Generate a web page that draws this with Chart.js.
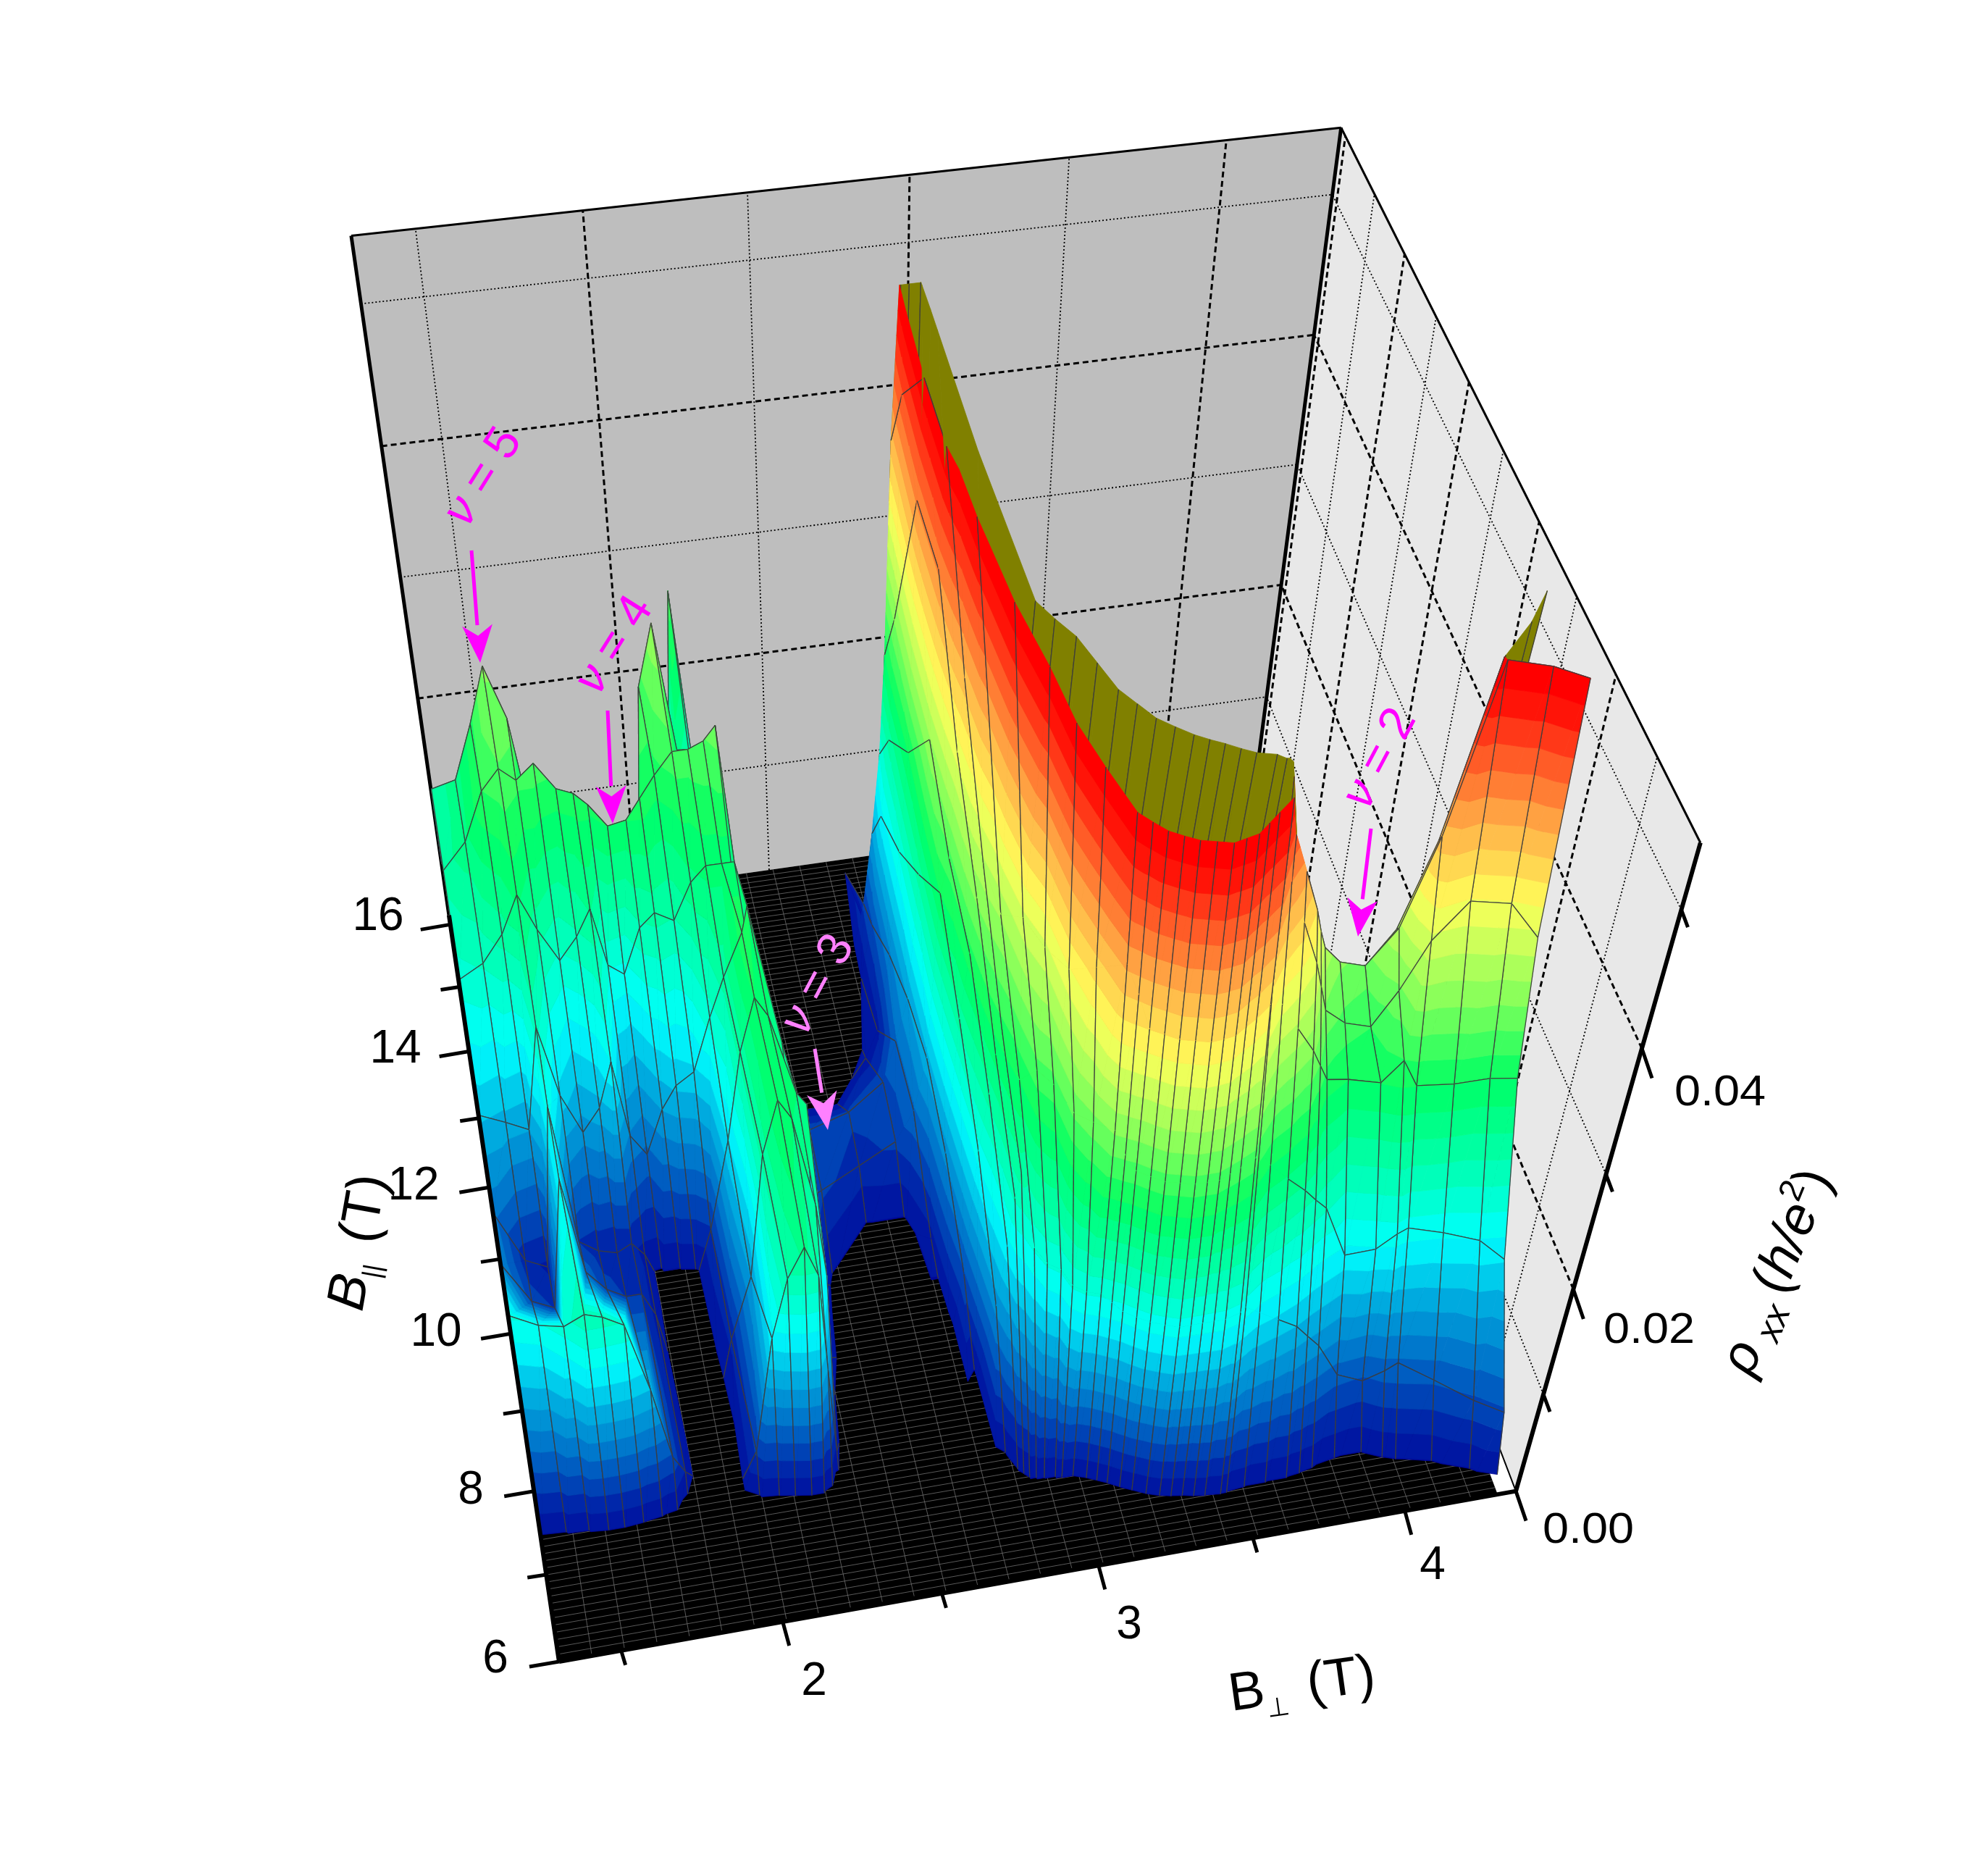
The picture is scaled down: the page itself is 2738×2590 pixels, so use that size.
<!DOCTYPE html>
<html>
<head>
<meta charset="utf-8">
<style>html,body{margin:0;background:#fff}canvas{display:block}</style>
<script src="https://cdn.jsdelivr.net/npm/chart.js@4/dist/chart.umd.min.js"></script>
</head>
<body>
<canvas id="c" width="2738" height="2590"></canvas>
<script>
// B_perp of each mesh column (T)
var bPerp = [1.31,1.39,1.46,1.52,1.57,1.63,1.69,1.74,1.78,1.83,1.89,1.94,2.00,2.06,2.11,2.16,2.20,2.23,2.26,2.30,2.38,2.53,2.66,2.72,2.76,2.79,2.815,2.83,2.845,2.865,2.89,2.925,2.945,2.98,3.02,3.05,3.08,3.115,3.15,3.19,3.23,3.265,3.30,3.335,3.37,3.42,3.44,3.50,3.57,3.64,3.685,3.73,3.81,3.90,3.96,4.00,4.11,4.22,4.30];

// B_par of the mesh nodes, one line per column (T)
var bPar = [
[7.25,7.8,9.6,10.4,11,12,13,14.2,15.3,16.15],
[7.23,7.7,9.6,10.4,11,12,13,14,15.2,16.15],
[7.22,7.5,9.6,10.4,11,12,13,14.1,15,16.15],
[7.2,7.32,9.6,10.4,11,12,13,14.1,15,16.15],
[7.2,7.32,9.6,10.4,11,12,13,13.5,15,16.15],
[7.22,7.33,9.6,10.4,11,12,13.1,13.6,15,16.15],
[7.25,7.36,9.6,10.4,11,12,13,13.5,15,16.15],
[7.28,7.38,9.6,10.4,11,12,12.9,13.5,15,16.15],
[7.4,7.55,9.6,10.4,11,12,12.8,13.5,15,16.15],
[7.5,7.8,8.7,10.2,11,12,12.55,13.5,15,16.15],
[7.45,7.8,8.7,10.2,11,12,12.6,13.5,15,16.15],
[7.4,7.6,8.7,10.2,11,12,12.7,13.5,15,16.15],
[7.28,7.4,9,10.3,11,12,13,14,15,16.15],
[7.26,7.38,8.7,10,11,12,13,14.2,15,16.15],
[7.23,7.35,8.7,10,11,12,13,14,15,16.15],
[7.2,7.33,8.7,10,10.7,12,13,14.2,15.4,16.15],
[7.2,7.33,8.7,10,11.2,12,13,14,15,16.15],
[7.25,7.45,8,9,9.8,11,12,13,14,16.15],
[7.3,7.55,8,9,10,11,12,13,14,16.15],
[7.4,8,8.7,9.5,10.5,11,12,13,14,16.15],
[7.3,8,9,9.8,10.5,11.2,12.3,13,14,16.15],
[7.2,8,9,10.4,10.9,11.5,12.3,13,14,16.15],
[7.2,8,9,10.4,11,11.7,12.7,13.5,14.5,16.15],
[7.2,8,9,10,11,12,13,14,14.5,16.15],
[7.3,8.3,9,10,11,12,13,14,14.5,16.15],
[7.2,8,9,10,11,12,13,14,14.5,15],
[7,8,9,10,11,12,13,14,14.5,14.9],
[6.95,8,9,10,11,12,13,14,14.5,14.9],
[6.9,8,9,10,11,12,13,14,14.5,14.9],
[6.9,7.6,8.5,9.5,11,12,13,14,14.4,14.8],
[6.9,7.4,8.2,9,9.85,11,12,14,14.4,14.8],
[6.9,7.3,8,8.6,9,10,12,14,14.4,14.8],
[6.9,7.1,7.5,8,8.3,9.5,9.8,10.8,14,15],
[6.9,7,7.25,7.55,7.75,9.1,9.55,10.5,14,15.6],
[6.85,6.95,7,7.1,7.2,8.7,9.3,10.2,14,16.15],
[6.8,6.89,6.93,7,7.07,8.4,8.95,9.8,14,16.15],
[6.75,6.83,6.87,6.91,6.95,8.1,8.6,9.4,14,16.15],
[6.68,6.74,6.78,6.83,6.87,7.9,8.4,9.3,14,16.15],
[6.62,6.66,6.7,6.75,6.8,7.7,8.2,9.2,14,16.15],
[6.55,6.6,6.66,6.71,6.76,7.6,8.07,9.1,14,16.15],
[6.5,6.55,6.62,6.67,6.72,7.5,7.95,9,14,16.15],
[6.47,6.55,6.62,6.68,6.75,7.5,7.87,8.9,14,16.15],
[6.45,6.55,6.62,6.7,6.78,7.5,7.8,8.8,14,16.15],
[6.42,6.55,6.67,6.78,6.88,7.5,7.72,8.7,14,16.15],
[6.4,6.55,6.72,6.85,6.98,7.5,7.65,8.6,14,16.15],
[6.38,6.6,6.8,6.98,7.12,7.5,7.6,8.5,14,16.15],
[6.38,6.65,6.9,7.15,7.35,7.5,7.55,8.4,14,16.15],
[6.4,6.75,7.05,7.35,7.55,7.6,7.65,8.45,14,16.15],
[6.4,6.8,7.12,7.45,7.68,7.8,7.83,8.6,14,16.15],
[6.4,6.85,7.2,7.55,7.8,7.97,8,8.75,14,16.15],
[6.42,6.88,7.25,7.67,7.95,8.16,8.2,8.9,14,16.15],
[6.45,6.9,7.3,7.8,8.1,8.35,8.4,9.1,14,16.15],
[6.5,6.9,7.25,7.9,8.2,8.55,8.6,9.3,14,16.15],
[6.5,6.9,7.2,7.8,8.25,8.62,8.67,9.4,14,16.15],
[6.4,6.85,7.2,7.8,8.2,8.45,8.5,9.2,14,16.15],
[6.35,6.85,7.25,7.7,8,8.2,8.25,9,14,16.15],
[6.25,6.7,7.2,7.65,8.1,8.35,8.4,9.2,14,16.15],
[6.1,6.45,7.1,7.65,8,8.2,8.75,9.4,14,16.15],
[6,6.25,7,7.6,7.85,8,9.1,9.8,14,16.15]
];

// rho_xx of the same nodes (10^-3 h/e^2)
var rhoXX = [
[0,19,10,9,14,19.6,22.9,22.9,15,5],
[0,18.5,6,4,13,20.7,25,24.5,16,5],
[0,19.6,5,3,12,22.9,28.9,28.3,16,5],
[0,21.8,17,18,21,26,30.5,32.7,16.4,5],
[0,21.3,8,5,14.7,22.9,29.4,31.6,13.6,5],
[0,20.2,6,3.8,11,20,30,19,11,5],
[0,13.6,5,3.3,13,21.8,28.3,16.4,11,5],
[0,6.5,5,4,17,24,28.3,16.4,11,5],
[0,3.3,2.7,2.7,10,19,27.8,16.4,11,5],
[0,0,0,0.5,8,18,27.3,16.4,11,5],
[0,0,0,0.5,12,21.8,27.3,16.4,11,5],
[0,0,0.5,1,14,22.9,28.3,16.4,11,5],
[0,5.5,3.8,4.9,15,22,28.3,30,13.6,5],
[0,16.4,12,15.3,19.6,25,30,33.8,16.4,5],
[0,21.8,22.9,22.9,22.9,26.2,30,24.5,16.4,5],
[0,24.5,27.3,27.3,28.3,26.2,30.5,21.8,30,5],
[0,21.8,25.6,25.6,27.3,26.2,31.6,16.4,16.4,2.7],
[0,12,22.9,25.6,24.5,16.4,10.9,8.2,2.7,0],
[0,2.7,16.4,24.5,16.4,8.2,4.4,1.6,0,0],
[0,0.5,2.7,4.4,4.4,4.4,1.6,0,0,0],
[0,0,0,1,5.5,6.5,1,0,0,0],
[0,0,0,1,4.4,5.5,1,0,0,0],
[0,0,0,1,5.5,6.5,2.2,0,0,0],
[0,0,0,2.7,8.2,8.2,2.7,1.6,1,0],
[0,1,6.5,10.9,13,12,9.8,6.5,5.5,0],
[0,10.9,18,22.9,27.3,22.9,19,16.4,12,0],
[0,16.4,22.9,28.3,30,33.8,27.3,22.9,19,0],
[0,20.7,26.2,32.7,38.2,46.3,46.3,32.7,27.3,0],
[0,22.9,28.3,35.4,43.6,54.5,54.5,49,43.6,0],
[0,19,27.3,34.3,54.5,60,60,60,57,0],
[0,19,30,37,54.5,60,60,60,57,0],
[0,19,30,37,54.5,60,60,60,57,0],
[0,19,31,39,54.5,57,56,5.5,5.5,0],
[0,19,31.8,41.8,54.5,57,56,5.5,4,0],
[0,19,32.7,44.7,54.5,57,56,5.5,2.7,0],
[0,18.5,31,43,54.5,57,56,5.5,2.7,0],
[0,18,30,40.9,54.5,57,56,5.5,2.7,0],
[0,18,30,40.9,54.5,57,56,5.5,2.7,0],
[0,18,30,40.9,54.5,57,56,5.5,2.7,0],
[0,18,30,40.9,54.5,57,56,5.5,2.7,0],
[0,18,30,40.9,54.5,57,56,5.5,2.7,0],
[0,18,30,40.9,54.5,57,56,5.5,2.7,0],
[0,18,30,40.9,54.5,57,56,5.5,2.7,0],
[0,18,30,40.9,54.5,57,56,5.5,2.7,0],
[0,18,30,40.9,54.5,57,56,5.5,2.7,0],
[0,18,30,40.9,54.5,57,56,5.5,2.7,0],
[0,18,30,40.9,54.5,56,55.5,2.7,0,0],
[0,16.4,27.3,38.2,46,49,48,2.7,0,0],
[0,15,25.3,35.4,42,45,44,2.7,0,0],
[0,13.6,23.4,32.7,38,40.9,40,2.7,0,0],
[0,12.2,22,30.5,35,38,37.5,2.7,0,0],
[0,10.9,20.7,28.3,32,35.4,35,2.7,0,0],
[0,7.6,16.4,27.3,30,32.7,32,2.7,0,0],
[0,6.5,16.9,27.3,29,31.6,31,2.7,0,0],
[0,7.6,18,28.9,32,35.4,35,2.7,0,0],
[0,8.2,18,27.3,37,43.6,43,2.7,0,0],
[0,7.1,17.4,27.3,39,54.5,55,2.7,0,0],
[0,6.5,16.9,27.3,39,54.5,56,2.7,0,0],
[0,6.5,15.5,27.3,37,54.5,56,2.7,0,0]
];

var bParTicks = [6,7,8,9,10,11,12,13,14,15,16];
var bPerpTicks = [1.5,2,2.5,3,3.5,4];
var rhoTicks = [0,10,20,30,40,50];
var bParLabels = ['6','8','10','12','14','16'];
var bPerpLabels = ['2','3','4'];
var rhoLabels = ['0.00','0.02','0.04'];

var B_MIN = 1.31, B_MAX = 4.37, P_MIN = 6, P_MAX = 16.15, RHO_MAX = 54.5;
function toU(b) { return (b - B_MIN) / (B_MAX - B_MIN); }
function toV(p) { return (p - P_MIN) / (P_MAX - P_MIN); }
function toW(r) { return r / RHO_MAX; }

// camera: fitted from where the box corners and ticks sit in the picture
var calib = [
    [0,0,0,776,2293],[1,0,0,2092,2049],[0,1,0,621,1259],[1,1,0,1730,1115],
    [0,1,1,484,328],[1,1,1,1853,175],[1,0,1,2347,1162],
    [0,1,1,484,328],[1,1,1,1853,175],[1,0,1,2347,1162],
    [0,1,1,484,328],[1,1,1,1853,175],[1,0,1,2347,1162],
    [1,0,20/54.5,2173,1774],[1,0,40/54.5,2268,1451],
    [toU(2),0,0,1082,2243],[toU(3),0,0,1515,2174],[toU(4),0,0,1938,2087],
    [0,toV(8),0,739,2059],[0,toV(10),0,705,1843],[0,toV(12),0,673,1637],[0,toV(14),0,646,1448],[0,toV(16),0,622,1272]
];
function fitCamera() {
    var rows = [], rhs = [];
    calib.forEach(function (c) {
        var x = c[3] / 1000, y = c[4] / 1000;
        rows.push([c[0],c[1],c[2],1,0,0,0,0,-x*c[0],-x*c[1],-x*c[2]]); rhs.push(x);
        rows.push([0,0,0,0,c[0],c[1],c[2],1,-y*c[0],-y*c[1],-y*c[2]]); rhs.push(y);
    });
    var n = 11, A = [], i, j, k;
    for (i = 0; i < n; i++) {
        A.push(new Array(n + 1).fill(0));
        for (j = 0; j < n; j++) rows.forEach(function (r) { A[i][j] += r[i] * r[j]; });
        rows.forEach(function (r, q) { A[i][n] += r[i] * rhs[q]; });
    }
    for (i = 0; i < n; i++) {
        var p = i;
        for (k = i + 1; k < n; k++) if (Math.abs(A[k][i]) > Math.abs(A[p][i])) p = k;
        var t = A[i]; A[i] = A[p]; A[p] = t;
        for (k = 0; k < n; k++) {
            if (k === i) continue;
            var f = A[k][i] / A[i][i];
            for (j = i; j <= n; j++) A[k][j] -= f * A[i][j];
        }
    }
    var m = [];
    for (i = 0; i < n; i++) m.push(A[i][n] / A[i][i]);
    return m;
}
var M = fitCamera();
function project(u, v, w) {
    var d = M[8]*u + M[9]*v + M[10]*w + 1;
    return { x: 1000 * (M[0]*u + M[1]*v + M[2]*w + M[3]) / d, y: 1000 * (M[4]*u + M[5]*v + M[6]*w + M[7]) / d };
}
// point of the floor straight under the camera: where the vertical lines meet
function nadir() {
    var vx = M[2] / M[10], vy = M[6] / M[10];
    var a = M[0] - vx * M[8], b = M[1] - vx * M[9], c = vx - M[3];
    var d = M[4] - vy * M[8], e = M[5] - vy * M[9], f = vy - M[7];
    var det = a * e - b * d;
    return { u: (c * e - b * f) / det, v: (a * f - c * d) / det };
}
var CAM = nadir();

// rainbow with 32 flat bands, black under the first one
var N_BANDS = 32, BLACK_W = 0.03;
var stops = [[0,0,0,150],[0.08,0,40,170],[0.16,0,110,200],[0.24,0,175,225],[0.31,0,255,255],[0.41,0,255,170],[0.5,0,255,100],[0.6,130,255,90],[0.72,255,255,90],[0.82,255,170,70],[0.91,255,70,30],[0.97,255,0,0],[1,255,0,0]];
function bandColor(t) {
    for (var i = 1; i < stops.length; i++) {
        if (t <= stops[i][0]) {
            var a = stops[i-1], b = stops[i], f = (t - a[0]) / (b[0] - a[0]);
            return 'rgb(' + Math.round(a[1]+f*(b[1]-a[1])) + ',' + Math.round(a[2]+f*(b[2]-a[2])) + ',' + Math.round(a[3]+f*(b[3]-a[3])) + ')';
        }
    }
    return 'rgb(255,0,0)';
}

// clip a polygon of [u,v,w] nodes to lo <= w <= hi
function clipW(poly, lo, hi) {
    function cut(pts, keep, level) {
        var out = [];
        for (var i = 0; i < pts.length; i++) {
            var a = pts[i], b = pts[(i + 1) % pts.length], ka = keep(a[2]), kb = keep(b[2]);
            if (ka) out.push(a);
            if (ka !== kb) {
                var f = (level - a[2]) / (b[2] - a[2]);
                out.push([a[0]+f*(b[0]-a[0]), a[1]+f*(b[1]-a[1]), level]);
            }
        }
        return out;
    }
    var r = cut(poly, function (w) { return w >= lo; }, lo);
    if (r.length) r = cut(r, function (w) { return w <= hi; }, hi);
    return r;
}

function node(i, j) { return [toU(bPerp[i]), toV(bPar[i][j]), toW(rhoXX[i][j])]; }

function line3d(list) { return list.map(function (p) { return project(p[0], p[1], p[2]); }); }
function gridLines(segs) {
    var out = [];
    segs.forEach(function (s) {
        out = out.concat(line3d(s));
        out.push({ x: NaN, y: NaN });
    });
    return out;
}
function lineSet(data, color, width, order, dash) {
    return { type: 'scatter', data: data, showLine: true, borderColor: color, borderWidth: width, borderDash: dash || [], pointRadius: 0, fill: false, tension: 0, order: order, spanGaps: false };
}
function polySet(list, color, order) {
    var d = line3d(list);
    d.push(d[0]);
    return { type: 'scatter', data: d, showLine: true, borderColor: color, borderWidth: 0, backgroundColor: color, pointRadius: 0, fill: 'shape', tension: 0, order: order };
}

// wall grids: even T and 0.02 are dashed, the rest dotted
var backMajor = [], backMinor = [], rightMajor = [], rightMinor = [], floorMesh = [], b, p;
bPerpTicks.forEach(function (t, i) {
    (i % 2 === 1 ? backMajor : backMinor).push([[toU(t),1,0],[toU(t),1,1]]);
});
bParTicks.forEach(function (t) {
    (t % 2 === 0 ? rightMajor : rightMinor).push([[1,toV(t),0],[1,toV(t),1]]);
});
rhoTicks.forEach(function (t) {
    if (t === 0) return;
    var major = t % 20 === 0;
    (major ? backMajor : backMinor).push([[0,1,toW(t)],[1,1,toW(t)]]);
    (major ? rightMajor : rightMinor).push([[1,0,toW(t)],[1,1,toW(t)]]);
});
var FLOOR_U = 0.98;
for (b = 0; b < FLOOR_U; b += 0.0328) floorMesh.push([[b,0,0],[b,1,0]]);
for (p = 0; p <= 1; p += 0.0082) floorMesh.push([[0,p,0],[FLOOR_U,p,0]]);

var frontEdges = [
    [[0,0,0],[0,1,0]], [[0,0,0],[1,0,0]], [[1,0,0],[1,0,1]]
];
var majorTicks = [], minorTicks = [];
function tickSeg(pt, dx, dy) { return [pt, { x: pt.x + dx, y: pt.y + dy }, { x: NaN, y: NaN }]; }
bParTicks.forEach(function (t) {
    var pt = project(0, toV(t), 0);
    var major = t % 2 === 0;
    if (major) majorTicks = majorTicks.concat(tickSeg(pt, -41, 7));
    else minorTicks = minorTicks.concat(tickSeg(pt, -26, 4));
});
bPerpTicks.forEach(function (t, i) {
    var pt = project(toU(t), 0, 0);
    if (i % 2) majorTicks = majorTicks.concat(tickSeg(pt, 9, 33));
    else minorTicks = minorTicks.concat(tickSeg(pt, 6, 20));
});
rhoTicks.forEach(function (t) {
    var pt = project(1, 0, toW(t));
    if (t % 20 === 0) majorTicks = majorTicks.concat(tickSeg(pt, 14, 41));
    else minorTicks = minorTicks.concat(tickSeg(pt, 9, 24));
});

var surfaceNodes = [];
bPerp.forEach(function (_, i) {
    bPar[i].forEach(function (_, j) {
        var n = node(i, j);
        surfaceNodes.push(project(n[0], n[1], Math.min(n[2], 1)));
    });
});

var datasets = [
    polySet([[0,1,0],[1,1,0],[1,1,1],[0,1,1]], '#bebebe', 20),
    polySet([[1,0,0],[1,1,0],[1,1,1],[1,0,1]], '#e8e8e8', 19),
    polySet([[0,0,0],[FLOOR_U,0,0],[FLOOR_U,1,0],[0,1,0]], '#000000', 18),
    lineSet(gridLines(floorMesh), 'rgba(110,110,110,0.8)', 1, 17),
    lineSet(gridLines(backMinor), '#000', 1.8, 16, [2,3]),
    lineSet(gridLines(backMajor), '#000', 3, 16, [8,5]),
    lineSet(gridLines(rightMinor), '#000', 1.8, 16, [2,3]),
    lineSet(gridLines(rightMajor), '#000', 3, 16, [8,5]),
    lineSet(gridLines([[[0,1,1],[1,1,1]],[[1,1,1],[1,0,1]]]), '#000', 3, 15),
    lineSet(gridLines([[[1,1,1],[1,1,0]],[[0,1,1],[0,1,0]]]), '#000', 5, 15),
    lineSet(gridLines([[[1,0,0],[1,1,0]]]), '#000', 2, 15),
    { type: 'scatter', label: 'surface', data: surfaceNodes, showLine: false, pointRadius: 0, order: 10 },
    lineSet(gridLines(frontEdges), '#000', 6, 5),
    lineSet(majorTicks, '#000', 5, 4),
    lineSet(minorTicks, '#000', 5, 4)
];
var SURFACE = 11;

function tracePoly(ctx, xs, ys, poly) {
    ctx.beginPath();
    poly.forEach(function (n, k) {
        var q = project(n[0], n[1], n[2]);
        var px = xs.getPixelForValue(q.x), py = ys.getPixelForValue(q.y);
        if (k) ctx.lineTo(px, py); else ctx.moveTo(px, py);
    });
    ctx.closePath();
}
function area(a, b, c) {
    var p = project(a[0],a[1],a[2]), q = project(b[0],b[1],b[2]), s = project(c[0],c[1],c[2]);
    return (q.x-p.x)*(s.y-p.y) - (q.y-p.y)*(s.x-p.x);
}
function drawTriangle(ctx, xs, ys, tri, frontSign) {
    var sign = area(tri[0], tri[1], tri[2]);
    var lo = Math.min(tri[0][2], tri[1][2], tri[2][2]), hi = Math.max(tri[0][2], tri[1][2], tri[2][2]);
    // the underside only shows where the clipped ridge opens it up
    if (sign * frontSign < 0 && hi >= 0.9) {
        var back = clipW(tri, BLACK_W, 1);
        if (back.length > 2) {
            tracePoly(ctx, xs, ys, back);
            ctx.fillStyle = ctx.strokeStyle = '#808000';
            ctx.lineWidth = 0.8;
            ctx.fill(); ctx.stroke();
        }
        return;
    }
    var k0 = Math.max(Math.floor(lo * N_BANDS), 0), k1 = Math.min(Math.floor(hi * N_BANDS), N_BANDS - 1);
    for (var k = k0; k <= k1; k++) {
        var a = Math.max(k / N_BANDS, BLACK_W), b = (k + 1) / N_BANDS;
        if (b <= a) continue;
        var piece = clipW(tri, a, b);
        if (piece.length < 3) continue;
        tracePoly(ctx, xs, ys, piece);
        ctx.fillStyle = ctx.strokeStyle = bandColor((k + 0.5) / N_BANDS);
        ctx.lineWidth = 0.8;
        ctx.fill(); ctx.stroke();
    }
}
function drawEdge(ctx, xs, ys, a, b) {
    var t0 = 0, t1 = 1;
    function at(t) { return [a[0]+t*(b[0]-a[0]), a[1]+t*(b[1]-a[1]), a[2]+t*(b[2]-a[2])]; }
    if (a[2] !== b[2]) {
        var ta = (BLACK_W - a[2]) / (b[2] - a[2]), tb = (1 - a[2]) / (b[2] - a[2]);
        t0 = Math.max(0, Math.min(ta, tb)); t1 = Math.min(1, Math.max(ta, tb));
    } else if (a[2] < BLACK_W || a[2] > 1) return;
    if (t1 <= t0) return;
    var p = at(t0), q = at(t1), P = project(p[0],p[1],p[2]), Q = project(q[0],q[1],q[2]);
    ctx.beginPath();
    ctx.moveTo(xs.getPixelForValue(P.x), ys.getPixelForValue(P.y));
    ctx.lineTo(xs.getPixelForValue(Q.x), ys.getPixelForValue(Q.y));
    ctx.strokeStyle = 'rgba(60,60,60,0.95)';
    ctx.lineWidth = 1.3;
    ctx.stroke();
}

var surfacePlugin = {
    id: 'surface',
    afterDatasetDraw: function (chart, args) {
        if (args.index !== SURFACE) return;
        var ctx = chart.ctx, xs = chart.scales.x, ys = chart.scales.y, quads = [], i, j;
        var frontSign = area([0,0,0],[1,0,0],[0,1,0]);
        for (i = 0; i < bPerp.length - 1; i++) {
            for (j = 0; j < 9; j++) {
                var a = node(i,j), b = node(i+1,j), c = node(i+1,j+1), d = node(i,j+1);
                if (Math.max(a[2],b[2],c[2],d[2]) < BLACK_W) continue;
                // height field: far to near over the floor, measured from under the camera
                var cu = (a[0]+b[0]+c[0]+d[0]) / 4 - CAM.u, cv = (a[1]+b[1]+c[1]+d[1]) / 4 - CAM.v;
                quads.push({ a: a, b: b, c: c, d: d, z: cu*cu + cv*cv });
            }
        }
        quads.sort(function (p, q) { return q.z - p.z; });
        ctx.save();
        ctx.lineJoin = 'round';
        quads.forEach(function (q) {
            drawTriangle(ctx, xs, ys, [q.a, q.b, q.c], frontSign);
            drawTriangle(ctx, xs, ys, [q.a, q.c, q.d], frontSign);
            // the steep middle of the sheet shows its column lines only
            var steep = q.a[0] > 0.44 && q.a[0] < 0.72;
            if (!steep) {
                drawEdge(ctx, xs, ys, q.a, q.b);
                drawEdge(ctx, xs, ys, q.d, q.c);
            }
            drawEdge(ctx, xs, ys, q.a, q.d);
            drawEdge(ctx, xs, ys, q.b, q.c);
        });
        ctx.restore();
    }
};

function tickText(ctx, s, x, y, size, sx) {
    ctx.save();
    ctx.translate(x, y);
    ctx.scale(sx || 1, 1);
    ctx.font = size + 'px "Liberation Sans"';
    ctx.fillStyle = '#000';
    ctx.textAlign = 'center';
    ctx.textBaseline = 'middle';
    ctx.fillText(s, 0, 0);
    ctx.restore();
}
// runs of [text, font, baseline shift] written along a rotated baseline
function runs(ctx, x, y, angle, parts, color) {
    ctx.save();
    ctx.translate(x, y);
    ctx.rotate(angle * Math.PI / 180);
    ctx.fillStyle = color || '#000';
    ctx.textBaseline = 'alphabetic';
    ctx.textAlign = 'left';
    var cx = 0;
    parts.forEach(function (t) {
        ctx.font = t[1];
        ctx.fillText(t[0], cx, t[2] || 0);
        cx += ctx.measureText(t[0]).width + (t[3] || 0);
    });
    ctx.restore();
}
function arrow(ctx, x0, y0, x1, y1, color) {
    var a = Math.atan2(y1 - y0, x1 - x0), L = 52, W = 21;
    var bx = x1 - L * Math.cos(a), by = y1 - L * Math.sin(a);
    ctx.strokeStyle = ctx.fillStyle = color;
    ctx.lineWidth = 5;
    ctx.beginPath(); ctx.moveTo(x0, y0); ctx.lineTo(bx, by); ctx.stroke();
    ctx.beginPath();
    ctx.moveTo(x1, y1);
    ctx.lineTo(bx - W * Math.sin(a), by + W * Math.cos(a));
    ctx.lineTo(x1 - 0.72 * L * Math.cos(a), y1 - 0.72 * L * Math.sin(a));
    ctx.lineTo(bx + W * Math.sin(a), by - W * Math.cos(a));
    ctx.closePath(); ctx.fill();
}
var textPlugin = {
    id: 'labels',
    afterDraw: function (chart) {
        var ctx = chart.ctx, F = '"Liberation Sans"';
        var parPos = [[684,2291],[650,2058],[602,1840],[571,1638],[546,1449],[522,1266]];
        bParLabels.forEach(function (s, i) { tickText(ctx, s, parPos[i][0], parPos[i][1], 64); });
        var perpPos = [[1124,2322],[1559,2244],[1978,2162]];
        bPerpLabels.forEach(function (s, i) { tickText(ctx, s, perpPos[i][0], perpPos[i][1], 64); });
        var rhoPos = [[2193,2113],[2277,1837],[2375,1509]];
        rhoLabels.forEach(function (s, i) { tickText(ctx, s, rhoPos[i][0], rhoPos[i][1], 60, 1.08); });

        var it = 'italic 74px ' + F, up = '74px ' + F;
        runs(ctx, 500, 1812, -80, [['B', it], ['||', '36px ' + F, 16, 6], [' (T)', up]]);
        runs(ctx, 1700, 2362, -8, [['B', up], ['\u22A5', '36px ' + F, 16, 8], [' (T)', up]]);
        runs(ctx, 2418, 1902, -68, [['\u03C1', it], [' xx', 'italic 50px ' + F, 16, 14], ['(', up], ['h/e', it], ['2', '46px ' + F, -30], [')', up]]);

        var mg = '#ff00ff', lt = '#ff80ff', nu = 'italic 66px ' + F, eq = '66px ' + F;
        runs(ctx, 645, 730, -58, [['\u03BD', nu], [' = 5', eq]], mg);
        runs(ctx, 826, 962, -58, [['\u03BD', nu], [' = 4', eq]], mg);
        runs(ctx, 1112, 1432, -62, [['\u03BD', nu], [' = 3', eq]], lt);
        runs(ctx, 1888, 1120, -62, [['\u03BD', nu], [' = 2', eq]], mg);
        ctx.save();
        arrow(ctx, 651, 760, 663, 915, mg);
        arrow(ctx, 839, 981, 846, 1137, mg);
        arrow(ctx, 1125, 1448, 1143, 1560, lt);
        arrow(ctx, 1893, 1144, 1875, 1293, mg);
        ctx.restore();
    }
};

new Chart(document.getElementById('c').getContext('2d'), {
    type: 'scatter',
    data: { datasets: datasets },
    plugins: [surfacePlugin, textPlugin],
    options: {
        responsive: false,
        animation: false,
        devicePixelRatio: 1,
        layout: { padding: 0 },
        events: [],
        plugins: { legend: { display: false }, tooltip: { enabled: false }, title: { display: false } },
        scales: {
            x: { type: 'linear', min: 0, max: 2738, display: false },
            y: { type: 'linear', min: 0, max: 2590, reverse: true, display: false }
        }
    }
});
</script>
</body>
</html>
